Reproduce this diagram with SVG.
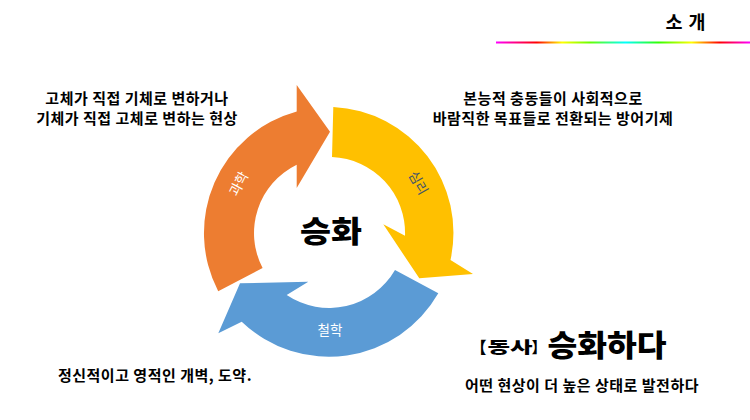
<svg xmlns="http://www.w3.org/2000/svg" width="750" height="420" viewBox="0 0 750 420">
<defs>
<linearGradient id="rainbow" gradientUnits="userSpaceOnUse" x1="496" y1="0" x2="750" y2="0">
<stop offset="0" stop-color="#FF00FF"/>
<stop offset="0.16" stop-color="#FF0000"/>
<stop offset="0.26" stop-color="#FFFF00"/>
<stop offset="0.37" stop-color="#66FF00"/>
<stop offset="0.51" stop-color="#00FFFF"/>
<stop offset="0.64" stop-color="#33FF00"/>
<stop offset="0.77" stop-color="#FFFF00"/>
<stop offset="0.88" stop-color="#FF0000"/>
<stop offset="1" stop-color="#FF00FF"/>
</linearGradient>
<style>
text { font-family: 'Noto Sans CJK KR', 'Noto Sans', sans-serif; }
.body { font-size: 15px; font-weight: 700; fill: #000; text-anchor: middle; letter-spacing: 0.5px; }
.heavy { font-weight: 900; fill: #000; }
.lbl { font-size: 13.5px; text-anchor: middle; }
</style>
</defs>
<rect width="750" height="420" fill="#fff"/>

<g id="title">
<text x="686" y="29" font-size="18.5" font-weight="700" text-anchor="middle" fill="#000" letter-spacing="1">소 개</text>
<rect x="496" y="41.5" width="254" height="2" fill="url(#rainbow)"/>
</g>

<g id="connectors">
<g id="arrow-science">
<path d="M 218.2 291.2 A 126 126 0 0 1 296.7 111.5 L 296.7 85 L 330 131.7 L 296.7 188 L 296.7 164.7 A 76 76 0 0 0 262.6 268.1 Z" fill="#ED7D31"/>
<text class="lbl" x="0" y="0" fill="#fff" transform="translate(239 184) rotate(-62)" dy="4.5">과학</text>
</g>
<g id="arrow-psychology">
<path d="M 333.3 107 A 126 126 0 0 1 450.5 260 L 473 274 L 419.3 278.3 L 383.3 224.3 L 405 235.7 A 76 76 0 0 0 332 157 Z" fill="#FFC000"/>
<text class="lbl" x="0" y="0" fill="#44546A" transform="translate(418 183) rotate(60)" dy="4.5">심리</text>
</g>
<g id="arrow-philosophy">
<path d="M 438.3 293.3 A 126 126 0 0 1 241.7 321.7 L 218.3 333.3 L 240 283.3 L 308.3 281.7 L 286.7 295 A 76 76 0 0 0 395 270 Z" fill="#5B9BD5"/>
<text class="lbl" x="330" y="335" fill="#fff" font-size="14.5">철학</text>
</g>
</g>

<g id="center">
<text x="300" y="242" font-size="30" class="heavy" textLength="62" lengthAdjust="spacingAndGlyphs">승화</text>
</g>

<g id="desc-science">
<text class="body" x="137" y="104">고체가 직접 기체로 변하거나</text>
<text class="body" x="137" y="123.5">기체가 직접 고체로 변하는 현상</text>
</g>

<g id="desc-psychology">
<text class="body" x="553" y="104">본능적 충동들이 사회적으로</text>
<text class="body" x="553" y="123.5">바람직한 목표들로 전환되는 방어기제</text>
</g>

<g id="desc-philosophy">
<text class="body" x="155" y="381">정신적이고 영적인 개벽, 도약.</text>
</g>

<g id="definition">
<text x="470.5" y="353" font-size="16" font-weight="900" fill="#000">【</text>
<text x="487.5" y="353" font-size="16" class="heavy" textLength="45" lengthAdjust="spacingAndGlyphs">동사</text>
<text x="531.5" y="353" font-size="15" font-weight="900" fill="#000">】</text>
<text x="547.5" y="356" font-size="30" class="heavy" textLength="119" lengthAdjust="spacingAndGlyphs">승화하다</text>
<text class="body" x="582" y="391">어떤 현상이 더 높은 상태로 발전하다</text>
</g>
</svg>
